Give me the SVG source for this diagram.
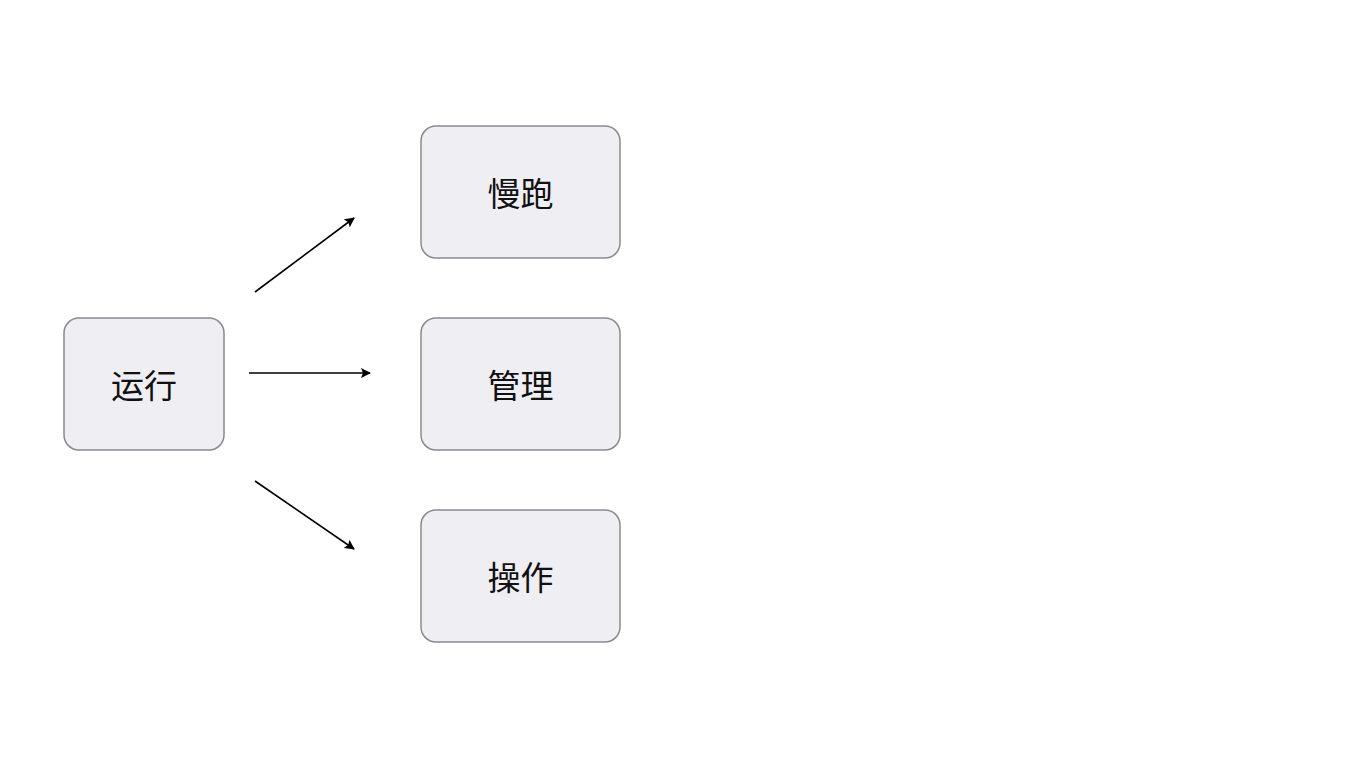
<svg xmlns="http://www.w3.org/2000/svg" width="1365" height="768" viewBox="0 0 1365 768">
<style>
.n rect{fill:#efeef3;stroke:#8a8a8e;stroke-width:1.5}
.n text{font-family:"Noto Sans CJK SC","Noto Sans",sans-serif;font-size:33px;fill:#111;text-anchor:middle;dominant-baseline:central}
.c line{stroke:#000;stroke-width:1.6;marker-end:url(#a)}
</style>
<defs><marker id="a" viewBox="0 0 10 10" refX="9" refY="5" markerWidth="10" markerHeight="10" markerUnits="userSpaceOnUse" orient="auto"><path d="M0,0 L10,5 L0,10 L2,5 Z" fill="#000"/></marker></defs>
<rect width="1365" height="768" fill="#fff"/>
<g id="n0" class="n"><rect x="64" y="318" width="160" height="132" rx="15"/><text x="144" y="384">运行</text></g>
<g id="n1" class="n"><rect x="421" y="126" width="199" height="132" rx="15"/><text x="520.5" y="192">慢跑</text></g>
<g id="n2" class="n"><rect x="421" y="318" width="199" height="132" rx="15"/><text x="520.5" y="384">管理</text></g>
<g id="n3" class="n"><rect x="421" y="510" width="199" height="132" rx="15"/><text x="520.5" y="576">操作</text></g>
<g id="connectors" class="c">
<line x1="255" y1="292" x2="354" y2="218"/>
<line x1="249" y1="373" x2="370" y2="373"/>
<line x1="255" y1="481" x2="354" y2="549"/>
</g>
</svg>
